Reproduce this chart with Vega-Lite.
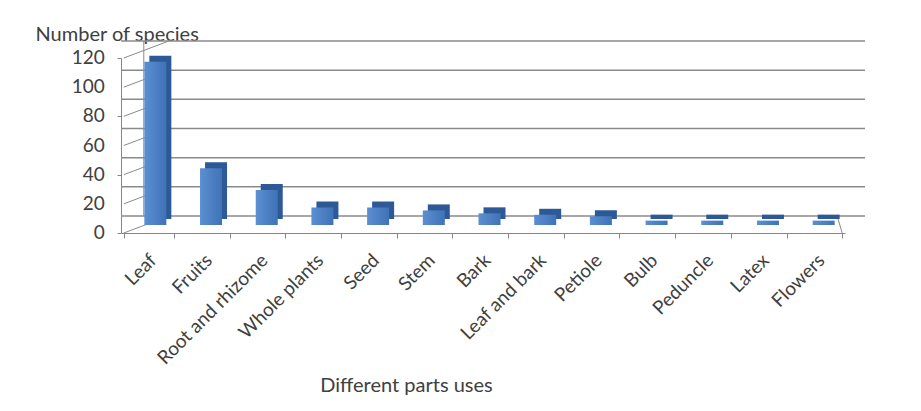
{
  "$schema": "https://vega.github.io/schema/vega-lite/v6.json",
  "width": 724,
  "height": 175,
  "autosize": "none",
  "padding": {"left": 121, "top": 58, "right": 76, "bottom": 178},
  "background": "white",
  "config": {"view": {"stroke": null}, "font": "Lato"},
  "datasets": {
    "parts": [
      {"part": "Leaf", "species": 112},
      {"part": "Fruits", "species": 39},
      {"part": "Root and rhizome", "species": 24},
      {"part": "Whole plants", "species": 12},
      {"part": "Seed", "species": 12},
      {"part": "Stem", "species": 10},
      {"part": "Bark", "species": 8},
      {"part": "Leaf and bark", "species": 7},
      {"part": "Petiole", "species": 6},
      {"part": "Bulb", "species": 3},
      {"part": "Peduncle", "species": 3},
      {"part": "Latex", "species": 3},
      {"part": "Flowers", "species": 3}
    ],
    "grid": [{"v": 0}, {"v": 20}, {"v": 40}, {"v": 60}, {"v": 80}, {"v": 100}, {"v": 120}],
    "wall": [{"lo": 0, "hi": 120}]
  },
  "layer": [
    {
      "data": {"name": "parts"},
      "mark": {
        "type": "bar", "width": 22, "xOffset": 6.5, "yOffset": -8, "y2Offset": -8, "opacity": 0
      },
      "encoding": {
        "x": {
          "field": "part", "type": "nominal", "sort": null,
          "axis": {
            "labelAngle": -45, "labelAlign": "right", "labelBaseline": "middle",
            "labelFontSize": 19, "labelColor": "#404040", "labelPadding": 19, "labelOffset": 4,
            "labelOverlap": false,
            "tickSize": 5, "tickBand": "extent", "tickColor": "#868686", "domainColor": "#868686",
            "title": "Different parts uses", "titleX": 285, "titleY": 152,
            "titleAlign": "center", "titleBaseline": "middle", "titleFontSize": 20,
            "titleFontWeight": "normal", "titleColor": "#404040"
          }
        },
        "y": {
          "field": "species", "type": "quantitative", "scale": {"domain": [0, 120], "nice": false},
          "axis": {
            "values": [0, 20, 40, 60, 80, 100, 120], "grid": false, "labels": false,
            "domainColor": "#868686", "tickColor": "#868686", "tickSize": 4,
            "title": "Number of species", "titleAngle": 0, "titleAlign": "left",
            "titleBaseline": "alphabetic", "titleX": -86, "titleY": -18,
            "titleFontSize": 20, "titleFontWeight": "normal", "titleColor": "#404040"
          }
        }
      }
    },
    {
      "data": {"name": "grid"},
      "mark": {"type": "text", "align": "right", "baseline": "middle", "fontSize": 19, "color": "#404040", "xOffset": -19},
      "encoding": {
        "x": {"datum": "Leaf", "type": "nominal", "bandPosition": 0, "title": "Different parts uses"},
        "y": {"field": "v", "type": "quantitative", "scale": {"domain": [0, 120], "nice": false}, "title": "Number of species"},
        "text": {"field": "v", "type": "quantitative"}
      }
    },
    {
      "data": {"name": "grid"},
      "mark": {"type": "rule", "color": "#8a8a8a", "strokeWidth": 1.5, "xOffset": 20, "yOffset": -17},
      "encoding": {
        "y": {"field": "v", "type": "quantitative", "scale": {"domain": [0, 120], "nice": false}, "title": "Number of species"}
      }
    },
    {
      "data": {"name": "grid"},
      "mark": {"type": "rule", "color": "#8a8a8a", "strokeWidth": 1, "x2Offset": 20, "y2Offset": -17},
      "encoding": {
        "x": {"datum": "Leaf", "type": "nominal", "bandPosition": 0, "title": "Different parts uses"},
        "x2": {"datum": "Leaf"},
        "y": {"field": "v", "type": "quantitative", "scale": {"domain": [0, 120], "nice": false}, "title": "Number of species"},
        "y2": {"field": "v"}
      }
    },
    {
      "data": {"name": "wall"},
      "mark": {"type": "rule", "color": "#8a8a8a", "strokeWidth": 1, "xOffset": 20, "yOffset": -17, "y2Offset": -17},
      "encoding": {
        "x": {"datum": "Leaf", "type": "nominal", "bandPosition": 0, "title": "Different parts uses"},
        "y": {"field": "lo", "type": "quantitative", "scale": {"domain": [0, 120], "nice": false}, "title": "Number of species"},
        "y2": {"field": "hi"}
      }
    },
    {
      "data": {"name": "wall"},
      "mark": {"type": "rule", "color": "#8a8a8a", "strokeWidth": 1, "x2Offset": 20, "y2Offset": -17},
      "encoding": {
        "x": {"datum": "Flowers", "type": "nominal", "bandPosition": 1, "title": "Different parts uses"},
        "x2": {"datum": "Flowers"},
        "y": {"field": "lo", "type": "quantitative", "scale": {"domain": [0, 120], "nice": false}, "title": "Number of species"},
        "y2": {"field": "lo"}
      }
    },
    {
      "data": {"name": "parts"},
      "mark": {"type": "bar", "width": 22, "xOffset": 11.5, "yOffset": -14, "y2Offset": -14, "color": "#2d5a96"},
      "encoding": {
        "x": {"field": "part", "type": "nominal", "sort": null, "title": "Different parts uses"},
        "y": {"field": "species", "type": "quantitative", "scale": {"domain": [0, 120], "nice": false}, "title": "Number of species"}
      }
    },
    {
      "data": {"name": "parts"},
      "mark": {
        "type": "bar", "width": 22, "xOffset": 6.5, "yOffset": -8, "y2Offset": -8,
        "color": {"gradient": "linear", "x1": 0, "y1": 0, "x2": 1, "y2": 0,
          "stops": [{"offset": 0, "color": "#5b8fd2"}, {"offset": 1, "color": "#3f72b6"}]}
      },
      "encoding": {
        "x": {"field": "part", "type": "nominal", "sort": null, "title": "Different parts uses"},
        "y": {"field": "species", "type": "quantitative", "scale": {"domain": [0, 120], "nice": false}, "title": "Number of species"}
      }
    }
  ]
}
